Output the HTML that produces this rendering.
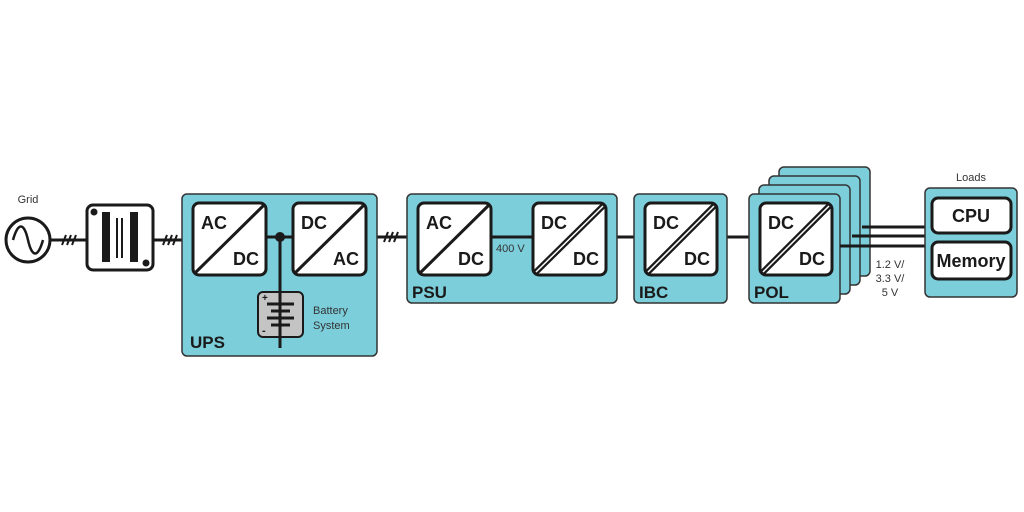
<!DOCTYPE html>
<html><head><meta charset="utf-8"><style>
html,body{margin:0;padding:0;background:#fff}
svg{display:block}
text{font-family:"Liberation Sans",sans-serif;fill:#1a1a1a}
.b{font-weight:bold;font-size:18px}
.l{font-weight:bold;font-size:17px}
.s{font-size:11px;fill:#333}
</style></head><body>
<svg width="1024" height="512" viewBox="0 0 1024 512" xmlns="http://www.w3.org/2000/svg">
<g stroke="#1a1a1a" stroke-width="3" fill="none">
<!-- wires -->
<line x1="50" y1="240" x2="86" y2="240"/>
<line x1="153" y1="240" x2="193" y2="240"/>
<line x1="366" y1="237" x2="418" y2="237"/>
<line x1="491" y1="237" x2="533" y2="237"/>
<line x1="606" y1="237" x2="645" y2="237"/>
<line x1="717" y1="237" x2="760" y2="237"/>
</g>
<g stroke="#1a1a1a" stroke-width="2">
<line x1="62" y1="245" x2="66" y2="235"/><line x1="67" y1="245" x2="71" y2="235"/><line x1="72" y1="245" x2="76" y2="235"/>
<line x1="163" y1="245" x2="167" y2="235"/><line x1="168" y1="245" x2="172" y2="235"/><line x1="173" y1="245" x2="177" y2="235"/>
<line x1="384" y1="242" x2="388" y2="232"/><line x1="389" y1="242" x2="393" y2="232"/><line x1="394" y1="242" x2="398" y2="232"/>
</g>
<!-- grid -->
<text x="28" y="203" class="s" text-anchor="middle">Grid</text>
<circle cx="28" cy="240" r="22" fill="#fff" stroke="#1a1a1a" stroke-width="3"/>
<path d="M13 240 C18 222 24 222 28 240 C32 258 38 258 43 240" fill="none" stroke="#1a1a1a" stroke-width="2.5"/>
<!-- transformer -->
<rect x="87" y="205" width="66" height="65" rx="6" fill="#fff" stroke="#1a1a1a" stroke-width="3"/>
<circle cx="94" cy="212" r="3.5" fill="#1a1a1a"/><circle cx="146" cy="263" r="3.5" fill="#1a1a1a"/>
<rect x="102" y="212" width="8" height="50" fill="#1a1a1a"/><rect x="130" y="212" width="8" height="50" fill="#1a1a1a"/>
<rect x="116" y="218" width="2" height="40" fill="#1a1a1a"/><rect x="121" y="218" width="2" height="40" fill="#1a1a1a"/>
<!-- UPS -->
<rect x="182" y="194" width="195" height="162" rx="5" fill="#7ccedb" stroke="#333" stroke-width="1.5"/>
<text x="190" y="348" class="l">UPS</text>
<line x1="280" y1="237" x2="280" y2="348" stroke="#1a1a1a" stroke-width="3"/>
<line x1="266" y1="237" x2="293" y2="237" stroke="#1a1a1a" stroke-width="3"/>
<circle cx="280" cy="237" r="5" fill="#1a1a1a"/>
<rect x="258" y="292" width="45" height="45" rx="5" fill="#c4c4c4" stroke="#1a1a1a" stroke-width="2"/>
<line x1="280" y1="292" x2="280" y2="337" stroke="#1a1a1a" stroke-width="3"/>
<g stroke="#1a1a1a" stroke-width="3"><line x1="267" y1="304" x2="294" y2="304"/><line x1="271" y1="311" x2="290" y2="311"/><line x1="267" y1="318" x2="294" y2="318"/><line x1="271" y1="325" x2="290" y2="325"/></g>
<text x="262" y="301" font-size="10" font-weight="bold">+</text><text x="262" y="334" font-size="11" font-weight="bold">-</text>
<text x="313" y="314" class="s">Battery</text><text x="313" y="329" class="s">System</text>
<!-- PSU -->
<rect x="407" y="194" width="210" height="109" rx="5" fill="#7ccedb" stroke="#333" stroke-width="1.5"/>
<text x="412" y="298" class="l">PSU</text>
<line x1="491" y1="237" x2="533" y2="237" stroke="#1a1a1a" stroke-width="3"/>
<text x="496" y="252" class="s">400 V</text>
<!-- IBC -->
<rect x="634" y="194" width="93" height="109" rx="5" fill="#7ccedb" stroke="#333" stroke-width="1.5"/>
<text x="639" y="298" class="l">IBC</text>
<!-- POL stack -->
<rect x="779" y="167" width="91" height="109" rx="5" fill="#7ccedb" stroke="#333" stroke-width="1.5"/>
<rect x="769" y="176" width="91" height="109" rx="5" fill="#7ccedb" stroke="#333" stroke-width="1.5"/>
<rect x="759" y="185" width="91" height="109" rx="5" fill="#7ccedb" stroke="#333" stroke-width="1.5"/>
<rect x="749" y="194" width="91" height="109" rx="5" fill="#7ccedb" stroke="#333" stroke-width="1.5"/>
<text x="754" y="298" class="l">POL</text>
<g stroke="#1a1a1a" stroke-width="3">
<line x1="862" y1="227" x2="925" y2="227"/><line x1="852" y1="236" x2="925" y2="236"/><line x1="840" y1="246" x2="925" y2="246"/>
</g>
<text x="890" y="268" class="s" text-anchor="middle">1.2 V/</text>
<text x="890" y="282" class="s" text-anchor="middle">3.3 V/</text>
<text x="890" y="296" class="s" text-anchor="middle">5 V</text>
<!-- Loads -->
<text x="971" y="181" class="s" text-anchor="middle">Loads</text>
<rect x="925" y="188" width="92" height="109" rx="5" fill="#7ccedb" stroke="#333" stroke-width="1.5"/>
<rect x="932" y="198" width="79" height="35" rx="6" fill="#fff" stroke="#1a1a1a" stroke-width="3"/>
<rect x="932" y="242" width="79" height="37" rx="6" fill="#fff" stroke="#1a1a1a" stroke-width="3"/>
<text x="971" y="222" class="b" text-anchor="middle">CPU</text>
<text x="971" y="267" class="b" text-anchor="middle">Memory</text>
<!-- converters -->
<g stroke="#1a1a1a" stroke-width="3" fill="#fff">
<rect x="193" y="203" width="73" height="72" rx="6"/>
<rect x="293" y="203" width="73" height="72" rx="6"/>
<rect x="418" y="203" width="73" height="72" rx="6"/>
<rect x="533" y="203" width="73" height="72" rx="6"/>
<rect x="645" y="203" width="72" height="72" rx="6"/>
<rect x="760" y="203" width="72" height="72" rx="6"/>
<line x1="195" y1="273" x2="264" y2="205"/>
<line x1="295" y1="273" x2="364" y2="205"/>
<line x1="420" y1="273" x2="489" y2="205"/>
</g>
<g stroke="#1a1a1a" stroke-width="6">
<line x1="535" y1="273" x2="604" y2="205"/><line x1="647" y1="273" x2="715" y2="205"/><line x1="762" y1="273" x2="830" y2="205"/>
</g>
<g stroke="#fff" stroke-width="1.5">
<line x1="536" y1="272" x2="603" y2="206"/><line x1="648" y1="272" x2="714" y2="206"/><line x1="763" y1="272" x2="829" y2="206"/>
</g>
<g class="b">
<text x="201" y="229" class="b">AC</text><text x="233" y="265" class="b">DC</text>
<text x="301" y="229" class="b">DC</text><text x="333" y="265" class="b">AC</text>
<text x="426" y="229" class="b">AC</text><text x="458" y="265" class="b">DC</text>
<text x="541" y="229" class="b">DC</text><text x="573" y="265" class="b">DC</text>
<text x="653" y="229" class="b">DC</text><text x="684" y="265" class="b">DC</text>
<text x="768" y="229" class="b">DC</text><text x="799" y="265" class="b">DC</text>
</g>
</svg>
</body></html>
